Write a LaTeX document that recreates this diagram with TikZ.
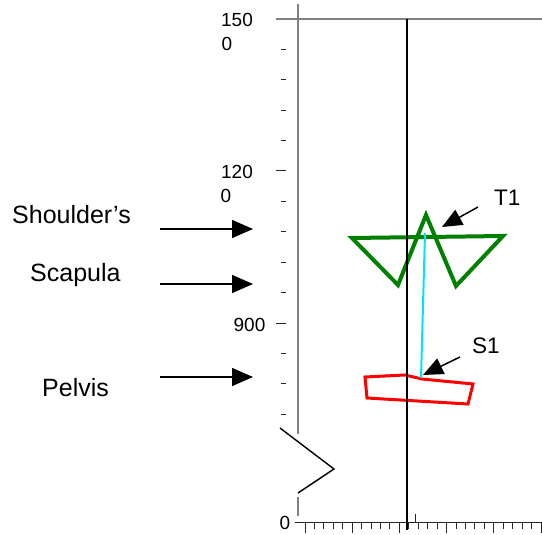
\documentclass[tikz,border=0pt]{standalone}
\usepackage{fontspec}
\setmainfont{Liberation Sans}
\usetikzlibrary{arrows.meta}
\begin{document}
\begin{tikzpicture}[x=1pt,y=-1pt,
  lbl/.style={font=\fontsize{25}{29}\selectfont, inner sep=0pt, anchor=base west},
  seglbl/.style={font=\fontsize{22.5}{26}\selectfont, inner sep=0pt, anchor=base west},
  num/.style={font=\fontsize{19}{22}\selectfont, inner sep=0pt},
  bigarrow/.style={-{Triangle[length=21pt,width=18pt]}, line width=1.5pt},
  ptarrow/.style={-{Triangle[length=20pt,width=17pt]}, line width=1.5pt},
  axisgray/.style={draw=black!50, line width=1.3pt},
  tickline/.style={draw=black!85, line width=1pt}]
\useasboundingbox (0,0) rectangle (542,535);

% vertical axis and top line
\draw[axisgray] (298,4) -- (298,434);
\draw[axisgray] (276,19) -- (542,19);
\draw[axisgray] (298,497) -- (298,516);
% break zigzag
\draw[line width=1.4pt, line join=miter] (280,428) -- (334,469) -- (298,493);

% left ticks
\foreach \k in {1,...,13}{
  \pgfmathsetmacro{\ty}{19+30.4*\k}
  \ifnum\k=5 \draw[tickline] (276,\ty) -- (286,\ty);
  \else\ifnum\k=10 \draw[tickline] (276,\ty) -- (286,\ty);
  \else \draw[tickline] (281,\ty) -- (286,\ty); \fi\fi
}

% bottom axis
\draw[tickline] (295,522) -- (542,522);
\foreach \i in {0,...,25}{
  \pgfmathsetmacro{\tx}{305+9.44*\i}
  \pgfmathtruncatemacro{\m}{mod(\i,5)}
  \ifnum\m=0 \draw[tickline] (\tx,522) -- (\tx,533);
  \else \draw[tickline] (\tx,522) -- (\tx,529); \fi
}
\draw[tickline] (415,514) -- (415,522);

% axis numbers
\node[num] (n150) at (237,20) {150};
\node[num] (n150b) at (227,44) {0};
\node[num] (n120) at (237,172) {120};
\node[num] (n120b) at (226,196) {0};
\node[num] (n900) at (249.5,325) {900};
\node[num] (n0) at (285,523) {0};

% green T1 segment
\draw[draw={rgb,255:red,0;green,128;blue,0}, line width=4pt, line join=miter]
  (352,238) -- (398,285) -- (426,215) -- (456,286) -- (503,236) -- cycle;
% red pelvis segment
\draw[draw={rgb,255:red,255;green,0;blue,0}, line width=3pt, line join=miter]
  (365,377) -- (405,375) -- (422,379) -- (473,384) -- (468,404) -- (367,398) -- cycle;
% cyan link
\coordinate (t1pt) at (425,233);
\coordinate (s1pt) at (421,378);
\draw[draw={rgb,255:red,0;green,230;blue,240}, line width=2pt] (t1pt) -- (s1pt);

% black vertical line
\draw[line width=2pt] (407,19) -- (407,530);

% labels and arrows
\node[lbl] (sh) at (12,223) {Shoulder’s};
\node[lbl] (sc) at (30,281) {Scapula};
\node[lbl] (pe) at (42,396) {Pelvis};
\coordinate (a1s) at (160,229); \coordinate (a1e) at (253,229);
\coordinate (a2s) at (160,284); \coordinate (a2e) at (253,284);
\coordinate (a3s) at (160,377); \coordinate (a3e) at (253,377);
\draw[bigarrow] (a1s) -- (a1e);
\draw[bigarrow] (a2s) -- (a2e);
\draw[bigarrow] (a3s) -- (a3e);

\node[seglbl] (T1) at (494,205) {T1};
\node[seglbl] (S1) at (472,353) {S1};
\coordinate (t1a) at (478,207); \coordinate (t1tip) at (442,227);
\coordinate (s1a) at (460,357); \coordinate (s1tip) at (423,375);
\draw[ptarrow] (t1a) -- (t1tip);
\draw[ptarrow] (s1a) -- (s1tip);
\end{tikzpicture}
\end{document}
